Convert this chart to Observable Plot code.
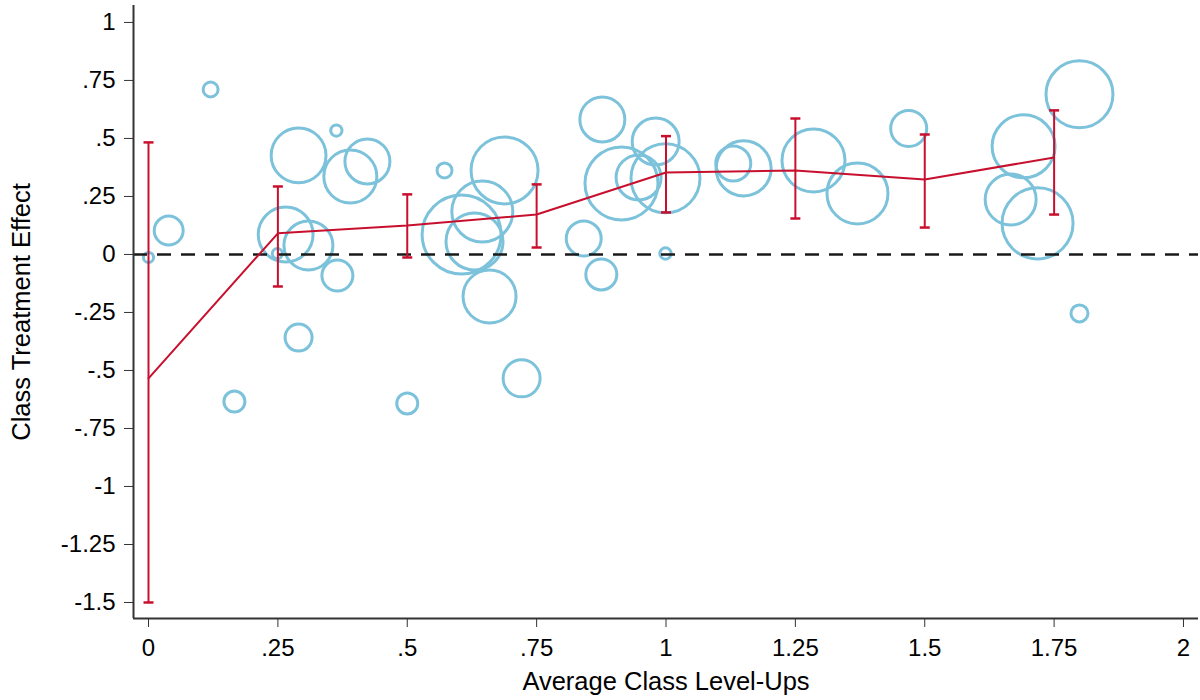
<!DOCTYPE html>
<html>
<head>
<meta charset="utf-8">
<script src="https://cdn.jsdelivr.net/npm/d3@7"></script>
<script src="https://cdn.jsdelivr.net/npm/@observablehq/plot@0.6"></script>
<style>
  html, body { margin: 0; padding: 0; background: #fff; }
  #chart svg { display: block; }
</style>
</head>
<body>
<div id="chart"></div>
<script>
// ---- Class-level bubbles (x = avg level-ups, y = treatment effect, w = class weight)
const classX = [0.000, 0.039, 0.120, 0.166, 0.249, 0.265, 0.290, 0.290, 0.309, 0.363,
                0.365, 0.390, 0.423, 0.500, 0.572, 0.605, 0.630, 0.645, 0.688, 0.659,
                0.721, 0.841, 0.875, 0.877, 0.914, 0.947, 0.980, 0.999, 0.999, 1.130,
                1.150, 1.285, 1.370, 1.469, 1.666, 1.691, 1.718, 1.799, 1.799];
const classY = [-0.013, 0.103, 0.711, -0.634, 0.004, 0.086, 0.427, -0.358, 0.039, 0.534,
                -0.091, 0.336, 0.401, -0.642, 0.362, 0.086, 0.056, 0.185, 0.362, -0.181,
                -0.534, 0.069, -0.086, 0.582, 0.306, 0.332, 0.487, 0.328, 0.004, 0.392,
                0.371, 0.405, 0.263, 0.543, 0.237, 0.466, 0.134, 0.690, -0.254];
const classWeight = [1.6, 13.1, 3.5, 6.9, 1.6, 47, 47, 11.4, 37.5, 2.0,
                     15, 43.9, 31.6, 6.9, 3.5, 97.5, 50.8, 58.1, 70.1, 43.9,
                     21.4, 19.1, 15, 31.6, 83.3, 31.6, 34.5, 74.4, 2.0, 19.1,
                     47.3, 62, 58.1, 20.3, 40.6, 62, 78.8, 70.1, 4.5];

// ---- Binned means with 95% CI
const binX    = [0, 0.25, 0.5, 0.75, 1, 1.25, 1.5, 1.75];
const binMean = [-0.534, 0.091, 0.125, 0.172, 0.353, 0.362, 0.323, 0.418];
const binLo   = [-1.500, -0.138, -0.013, 0.030, 0.181, 0.155, 0.116, 0.172];
const binHi   = [0.483, 0.293, 0.259, 0.302, 0.510, 0.586, 0.517, 0.621];

// ---- Axes
const xTicks = [0, 0.25, 0.5, 0.75, 1, 1.25, 1.5, 1.75, 2];
const yTicks = [1, 0.75, 0.5, 0.25, 0, -0.25, -0.5, -0.75, -1, -1.25, -1.5];
const xDomain = [-0.029, 2.029];
const yDomain = [-1.569, 1.073];
const xTitle = "Average Class Level-Ups";
const yTitle = "Class Treatment Effect";

const classes = classX.map((x, i) => ({x, y: classY[i], w: classWeight[i]}));
const bins = binX.map((x, i) => ({x, mean: binMean[i], lo: binLo[i], hi: binHi[i]}));

const stataFmt = d => String(d).replace(/^(-?)0\./, "$1.");
const blue = "#7cc2db";
const red = "#c8102e";
const capSymbol = { draw(ctx) { ctx.moveTo(-5, 0); ctx.lineTo(5, 0); } };
const font = "'Liberation Sans', Arial, Helvetica, sans-serif";

const chart = Plot.plot({
  width: 1200,
  height: 700,
  marginLeft: 133,
  marginRight: 2,
  marginTop: 5,
  marginBottom: 82,
  style: { fontFamily: font, background: "#fff", color: "#000" },
  x: { domain: xDomain },
  y: { domain: yDomain },
  r: { type: "sqrt", domain: [0, 100], range: [0, 40] },
  marks: [
    Plot.dot(classes, { x: "x", y: "y", r: "w", stroke: blue, strokeWidth: 3, fill: "none" }),
    Plot.ruleY([0], { stroke: "#1a1a1a", strokeWidth: 2.5, strokeDasharray: "14,10" }),
    Plot.ruleX(bins, { x: "x", y1: "lo", y2: "hi", stroke: red, strokeWidth: 2 }),
    Plot.dot(bins, { x: "x", y: "lo", symbol: capSymbol, stroke: red, strokeWidth: 2.5 }),
    Plot.dot(bins, { x: "x", y: "hi", symbol: capSymbol, stroke: red, strokeWidth: 2.5 }),
    Plot.line(bins, { x: "x", y: "mean", stroke: red, strokeWidth: 2 }),
    Plot.ruleX([xDomain[0]], { stroke: "#333", strokeWidth: 2 }),
    Plot.ruleY([yDomain[0]], { stroke: "#333", strokeWidth: 2 }),
    Plot.axisY(yTicks, { tickSize: 9, tickPadding: 9, fontSize: 24, tickFormat: stataFmt, label: null, stroke: "#333" }),
    Plot.axisX(xTicks, { tickSize: 9, tickPadding: 11, fontSize: 24, tickFormat: stataFmt, label: null, stroke: "#333" }),
    Plot.text([yTitle], { text: d => d, frameAnchor: "left", dx: -112, rotate: -90, fontSize: 25.5, textAnchor: "middle", lineAnchor: "middle" }),
    Plot.text([xTitle], { text: d => d, frameAnchor: "bottom", dy: 63, fontSize: 25.5, textAnchor: "middle", lineAnchor: "middle" })
  ]
});
document.getElementById("chart").appendChild(chart);
</script>
</body>
</html>
